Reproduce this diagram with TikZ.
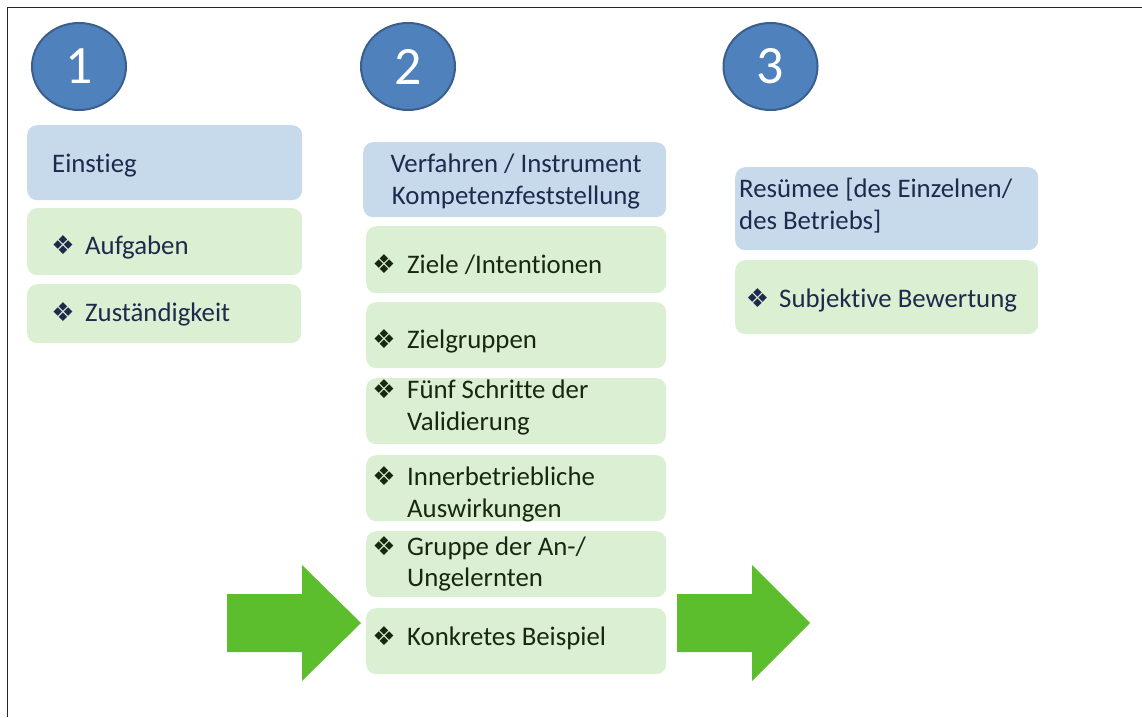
\documentclass[tikz,border=0pt]{standalone}
\usepackage{fontspec}
\usetikzlibrary{shapes.geometric}
\setmainfont[Ligatures=NoCommon]{Carlito}
\newfontfamily\dejavu{DejaVu Sans}
\definecolor{numfill}{HTML}{4F81BD}
\definecolor{numdraw}{HTML}{3A5F8C}
\definecolor{bluebox}{HTML}{C6DAEC}
\definecolor{greenbox}{HTML}{DBEFD3}
\definecolor{arrowgreen}{HTML}{5CBD2D}
\definecolor{navy}{HTML}{1E2A4C}
\definecolor{dkgreen}{HTML}{18280F}
\newcommand{\bul}{{\dejavu\fontsize{26}{26}\selectfont ❖}}
\begin{document}
\begin{tikzpicture}[x=1pt,y=-1pt,
  numcircle/.style={ellipse, fill=numfill, draw=numdraw, line width=2pt,
    minimum width=94pt, minimum height=87pt, inner sep=0pt, text=white,
    font=\fontsize{54}{54}\selectfont},
  bbox/.style={rounded corners=10pt, fill=bluebox, anchor=north west, inner sep=0pt},
  gbox/.style={rounded corners=10pt, fill=greenbox, anchor=north west, inner sep=0pt},
  txt/.style={anchor=base west, inner sep=0pt, font=\fontsize{26.8}{31.5}\selectfont, text=navy},
  gtxt/.style={txt, text=dkgreen},
  bull/.style={anchor=center, inner sep=0pt},
  bigarrow/.style={fill=arrowgreen, draw=none}
]
\useasboundingbox (0,0) rectangle (1142,717);
% frame
\draw[line width=1.6pt, black!85] (7.5,717) -- (7.5,7.5) -- (1142,7.5);

% number circles
\node[numcircle] (n1) at (79,66.5) {1};
\node[numcircle] (n2) at (408,66.5) {2};
\node[numcircle] (n3) at (770.5,66.5) {3};

% column 1
\node[bbox, minimum width=275pt, minimum height=75pt] (c1h) at (27,125) {};
\node[txt] (t1h) at (52,172) {Einstieg};
\node[gbox, minimum width=275pt, minimum height=67pt] (c1a) at (27,208) {};
\node[bull, text=navy] (b1a) at (63,245) {\bul};
\node[txt] (t1a) at (85,254) {Aufgaben};
\node[gbox, minimum width=274pt, minimum height=59pt] (c1b) at (27,284) {};
\node[bull, text=navy] (b1b) at (63,312) {\bul};
\node[txt] (t1b) at (85,321) {Zuständigkeit};

% column 2
\node[bbox, minimum width=303pt, minimum height=75pt] (c2h) at (363,142) {};
\node[txt, anchor=base] (t2h) at (516,172) {Verfahren / Instrument};
\node[txt, anchor=base] (t2h2) at (516,204) {Kompetenzfeststellung};
\node[gbox, minimum width=300pt, minimum height=67pt] (c2a) at (366,226) {};
\node[bull, text=dkgreen] (b2a) at (384,264) {\bul};
\node[gtxt] (t2a) at (407,273) {Ziele /Intentionen};
\node[gbox, minimum width=300pt, minimum height=66pt] (c2b) at (366,302) {};
\node[bull, text=dkgreen] (b2b) at (384,339) {\bul};
\node[gtxt] (t2b) at (407,348) {Zielgruppen};
\node[gbox, minimum width=300pt, minimum height=66pt] (c2c) at (366,378) {};
\node[bull, text=dkgreen] (b2c) at (384,389) {\bul};
\node[gtxt] (t2c) at (407,398) {Fünf Schritte der};
\node[gtxt] (t2c2) at (407,430) {Validierung};
\node[gbox, minimum width=300pt, minimum height=66pt] (c2d) at (366,455) {};
\node[bull, text=dkgreen] (b2d) at (384,476) {\bul};
\node[gtxt] (t2d) at (407,485) {Innerbetriebliche};
\node[gtxt] (t2d2) at (407,517) {Auswirkungen};
\node[gbox, minimum width=300pt, minimum height=66pt] (c2e) at (366,531) {};
\node[bull, text=dkgreen] (b2e) at (384,546) {\bul};
\node[gtxt] (t2e) at (407,555) {Gruppe der An-/};
\node[gtxt] (t2e2) at (407,586) {Ungelernten};
\node[gbox, minimum width=300pt, minimum height=66pt] (c2f) at (366,608) {};
\node[bull, text=dkgreen] (b2f) at (384,636) {\bul};
\node[gtxt] (t2f) at (407,645) {Konkretes Beispiel};

% column 3
\node[bbox, minimum width=303pt, minimum height=83pt] (c3h) at (735,167) {};
\node[txt] (t3h) at (739,197) {Resümee [des Einzelnen/};
\node[txt] (t3h2) at (739,229) {des Betriebs]};
\node[gbox, minimum width=303pt, minimum height=74pt] (c3a) at (735,260) {};
\node[bull, text=navy] (b3a) at (757.5,298) {\bul};
\node[txt] (t3a) at (779,307) {Subjektive Bewertung};

% arrows
\fill[bigarrow] (227,594) -- (302,594) -- (302,565) -- (361,623) -- (302,681) -- (302,652) -- (227,652) -- cycle;
\fill[bigarrow] (677,594) -- (752,594) -- (752,565) -- (810,623) -- (752,681) -- (752,652) -- (677,652) -- cycle;
\end{tikzpicture}
\end{document}
